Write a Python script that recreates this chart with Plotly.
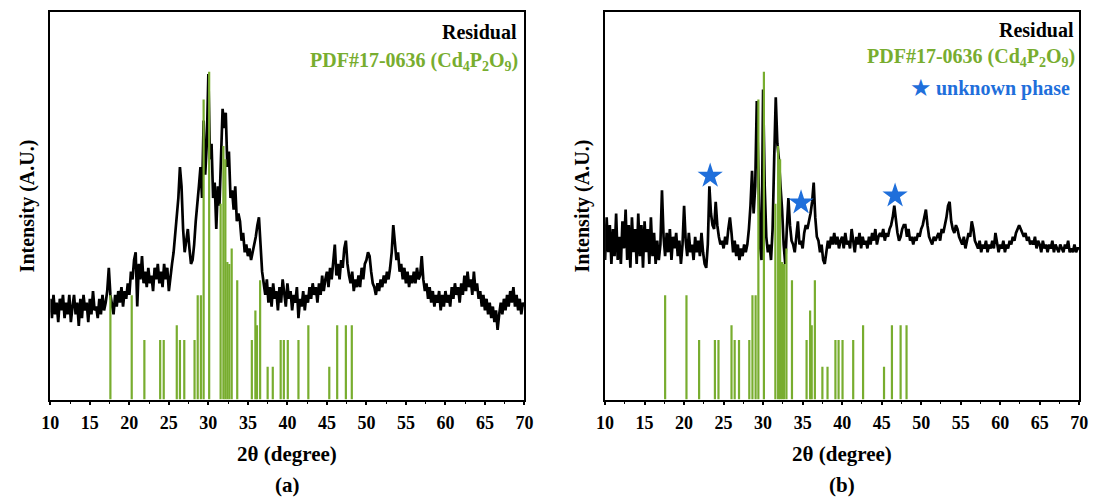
import numpy as np
import plotly.graph_objects as go
from plotly.subplots import make_subplots

# ---------------- data ----------------
two_theta = [round(10 + 0.2 * i, 1) for i in range(301)]

residual_a = [
    26, 21, 27, 22, 25,  20, 26, 23, 27, 21,  25, 22, 27, 20, 24,  27, 22, 25, 19, 26,
    21, 27, 23, 25, 20,  26, 22, 28, 23, 24,  21, 26, 22, 27, 23,  25, 28, 34, 27, 24,
    22, 27, 24, 28, 25,  29, 24, 28, 26, 30,  27, 33, 31, 36, 38,  24, 35, 31, 37, 30,
    33, 29, 34, 30, 32,  28, 34, 31, 35, 30,  33, 29, 35, 31, 34,  28, 32, 35, 38, 43,
    46, 52, 60, 55, 44,  38, 41, 44, 39, 35,  36, 40, 46, 50, 55,  60, 52, 72, 58, 66,
    84, 62, 66, 52, 56,  44, 55, 50, 66, 75,  70, 74, 60, 64, 52,  54, 49, 55, 46, 48,
    46, 41, 43, 38, 40,  37, 39, 36, 38, 40,  42, 45, 47, 40, 33,  30, 27, 31, 25, 29,
    24, 30, 26, 28, 23,  29, 25, 31, 27, 24,  30, 26, 28, 23, 27,  25, 29, 21, 26, 24,
    28, 23, 27, 25, 29,  26, 30, 27, 29, 25,  30, 27, 32, 28, 31,  33, 29, 34, 31, 36,
    40, 32, 35, 31, 36,  34, 39, 41, 35, 32,  30, 33, 28, 31, 29,  32, 29, 34, 31, 35,
    36, 38, 37, 33, 30,  29, 27, 30, 28, 31,  29, 32, 30, 33, 31,  34, 38, 45, 40, 36,
    38, 33, 35, 31, 34,  30, 33, 29, 32, 30,  33, 30, 34, 31, 32,  37, 31, 28, 30, 26,
    29, 25, 28, 24, 27,  25, 28, 23, 27, 24,  28, 25, 27, 24, 29,  26, 30, 27, 29, 25,
    30, 27, 32, 28, 33,  29, 31, 27, 33, 28,  30, 26, 28, 24, 27,  23, 26, 22, 25, 21,
    24, 20, 23, 18, 22,  25, 22, 26, 23, 27,  24, 28, 25, 29, 24,  27, 23, 26, 22, 25,
    24,
]

residual_b = [
    36, 47, 38, 45, 35,  44, 37, 48, 36, 42,  35, 46, 39, 49, 36,  45, 34, 47, 38, 44,
    35, 48, 37, 45, 34,  46, 38, 44, 35, 47,  37, 43, 35, 41, 36,  40, 54, 42, 37, 43,
    38, 44, 36, 42, 39,  43, 37, 41, 35, 40,  50, 41, 37, 43, 38,  40, 36, 42, 38, 41,
    37, 43, 38, 35, 34,  40, 55, 48, 45, 44,  51, 45, 42, 40, 41,  39, 42, 40, 44, 47,
    43, 38, 41, 37, 40,  36, 39, 37, 40, 38,  40, 44, 50, 59, 48,  55, 77, 58, 40, 36,
    80, 55, 42, 38, 40,  36, 44, 62, 78, 66,  62, 55, 49, 40, 35,  44, 52, 45, 41, 40,
    38, 42, 46, 40, 41,  39, 43, 45, 44, 46,  48, 51, 56, 47, 42,  41, 38, 40, 36, 35,
    38, 41, 39, 42, 40,  43, 40, 42, 39, 41,  42, 39, 43, 40, 41,  39, 44, 41, 38, 42,
    40, 43, 39, 42, 40,  41, 39, 42, 40, 43,  41, 44, 40, 42, 43,  42, 44, 41, 43, 42,
    44, 45, 47, 50, 46,  43, 41, 42, 44, 45,  45, 42, 44, 41, 42,  40, 42, 41, 43, 42,
    44, 45, 47, 49, 45,  42, 41, 40, 42, 41,  42, 43, 41, 44, 43,  45, 47, 50, 51, 46,
    44, 43, 45, 44, 42,  41, 40, 42, 39, 41,  43, 42, 46, 44, 41,  40, 39, 41, 38, 40,
    39, 41, 38, 40, 39,  41, 39, 43, 40, 38,  40, 39, 41, 38, 40,  39, 41, 40, 42, 41,
    43, 44, 45, 44, 43,  42, 43, 41, 42, 40,  41, 40, 42, 39, 41,  40, 38, 41, 39, 40,
    38, 40, 39, 41, 38,  40, 39, 38, 40, 39,  38, 40, 39, 41, 38,  39, 38, 40, 38, 39,
    39,
]

pdf_pos = [17.6, 20.3, 21.9, 23.9, 24.35, 26.0, 26.4, 26.95, 28.25, 28.65, 29.05,
           29.4, 30.1, 31.55, 31.9, 32.15, 32.4, 32.65, 32.95, 33.65, 35.5, 35.95,
           36.15, 36.55, 37.5, 38.15, 39.15, 39.55, 40.05, 41.4, 42.65, 45.3, 46.3,
           47.4, 48.15]
pdf_int = [26.9, 26.9, 15.4, 15.4, 15.4, 19.2, 15.4, 15.4, 15.4, 26.9, 26.9,
           77.4, 84.6, 50.5, 65.4, 62.0, 35.5, 35.0, 39.0, 30.8, 15.4, 23.0,
           19.2, 30.8, 8.5, 8.5, 15.4, 15.4, 15.4, 15.4, 19.2, 8.5, 19.2,
           19.2, 19.2]

star_x = [23.3, 34.8, 46.7]
star_y = [57.7, 50.8, 52.6]

# ---------------- style ----------------
GREEN = "#78AD2F"
BLUE = "#1F6FDB"
SERIF = "Liberation Serif"

stick_x, stick_y = [], []
for p, h in zip(pdf_pos, pdf_int):
    stick_x += [p, p, None]
    stick_y += [0, h, None]

fig = make_subplots(rows=1, cols=2)

for col, res in ((1, residual_a), (2, residual_b)):
    fig.add_trace(go.Scatter(x=two_theta, y=res, mode="lines",
                             line=dict(color="black", width=2.7),
                             showlegend=False, hoverinfo="skip"), row=1, col=col)
    fig.add_trace(go.Scatter(x=stick_x, y=stick_y, mode="lines",
                             line=dict(color=GREEN, width=2.2),
                             showlegend=False, hoverinfo="skip"), row=1, col=col)

fig.add_trace(go.Scatter(x=star_x, y=star_y, mode="markers",
                         marker=dict(symbol="star", size=19, color=BLUE,
                                     line=dict(width=0)),
                         showlegend=False, hoverinfo="skip"), row=1, col=2)

ydom = [0.196, 0.976]
xaxis_common = dict(range=[10, 70], dtick=5, tick0=10, showline=True, linecolor="black",
                    linewidth=1.6, mirror=True, ticks="outside", ticklen=4, tickwidth=1.5,
                    tickcolor="black", showgrid=False, zeroline=False,
                    ticklabelstandoff=2,
                    tickfont=dict(family=SERIF, size=18, color="black", weight="bold"),
                    minor=dict(dtick=2.5, ticks="outside", ticklen=3, tickwidth=1.2,
                               tickcolor="black", showgrid=False))
yaxis_common = dict(range=[0, 100], showline=True, linecolor="black", linewidth=1.6,
                    mirror=True, ticks="", showticklabels=False, showgrid=False,
                    zeroline=False)

fig.update_layout(
    width=1100, height=497,
    margin=dict(l=0, r=0, t=0, b=0),
    paper_bgcolor="white", plot_bgcolor="white",
    xaxis=dict(domain=[0.0382, 0.4764], **xaxis_common),
    xaxis2=dict(domain=[0.5509, 0.9891], **xaxis_common),
    yaxis=dict(domain=ydom, **yaxis_common),
    yaxis2=dict(domain=ydom, **yaxis_common),
)

def txt(x, y, s, color="black", size=19, xanchor="center", angle=0, family=SERIF):
    fig.add_annotation(x=x, y=y, xref="paper", yref="paper", text=s, showarrow=False,
                       xanchor=xanchor, yanchor="middle", textangle=angle,
                       font=dict(family=family, size=size, color=color, weight="bold"))

pdf_label = "PDF#17-0636 (Cd<sub>4</sub>P<sub>2</sub>O<sub>9</sub>)"

# panel (a)
txt(0.4718, 0.9356, "Residual", xanchor="right", size=20)
txt(0.4727, 0.877, pdf_label, color=GREEN, xanchor="right", size=20)
txt(0.2573, 0.0865, "2θ (degree)", size=21)
txt(0.2573, 0.025, "(a)", size=21)
txt(0.017, 0.5855, "Intensity (A.U.)", angle=-90, size=20)

# panel (b)
txt(0.9864, 0.9396, "Residual", xanchor="right", size=20)
txt(0.9870, 0.885, pdf_label, color=GREEN, xanchor="right", size=20)
txt(0.9827, 0.821, "unknown phase", color=BLUE, xanchor="right", size=20)
txt(0.843, 0.823, "★", color=BLUE, size=24, family="DejaVu Sans")
txt(0.770, 0.0865, "2θ (degree)", size=21)
txt(0.770, 0.025, "(b)", size=21)
txt(0.530, 0.5855, "Intensity (A.U.)", angle=-90, size=20)

fig.write_html("out.html")
